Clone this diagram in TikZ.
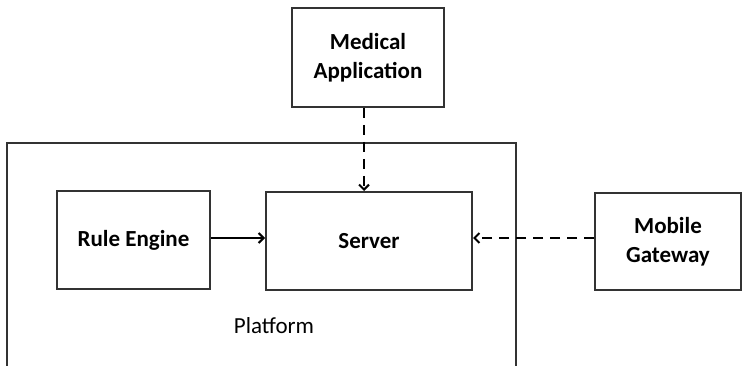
\documentclass[tikz,border=0pt]{standalone}
\usepackage{fontspec}
\setmainfont{Carlito}
\usetikzlibrary{arrows.meta}
\begin{document}
\begin{tikzpicture}[x=1pt,y=-1pt,
  box/.style={draw=black!80,line width=1.4pt,fill=white},
  lbl/.style={font=\bfseries\fontsize{23}{29}\selectfont,align=center},
  conn/.style={line width=2.8pt,-{Straight Barb[length=5pt,width=10pt,line width=2pt]}},
  dconn/.style={conn,dash pattern=on 10pt off 7pt}]
\useasboundingbox (0,0) rectangle (742,366);
\draw[box] (7,366) -- (7,143) -- (516,143) -- (516,366);
\node[lbl] (platform) at (274,326) {\mdseries Platform};
\draw[box] (292,8) rectangle (444,107);
\node[lbl] (malbl) at (368,58) {Medical\\Application};
\draw[box] (57,191) rectangle (210,289);
\node[lbl] (relbl) at (133.5,240) {Rule Engine};
\draw[box] (266,192) rectangle (472,290);
\node[lbl] (srvlbl) at (369,241) {Server};
\draw[box] (595,193) rectangle (741,290);
\node[lbl] (mglbl) at (668,242) {Mobile\\Gateway};
\coordinate (maB) at (364,108);
\coordinate (srvT) at (364,191);
\coordinate (reR) at (211,238);
\coordinate (srvL) at (265,238);
\coordinate (srvR) at (473,238);
\coordinate (mgL) at (594,238);
\draw[dconn] (maB) -- (srvT);
\draw[conn] (reR) -- (srvL);
\draw[dconn] (mgL) -- (srvR);
\end{tikzpicture}
\end{document}
